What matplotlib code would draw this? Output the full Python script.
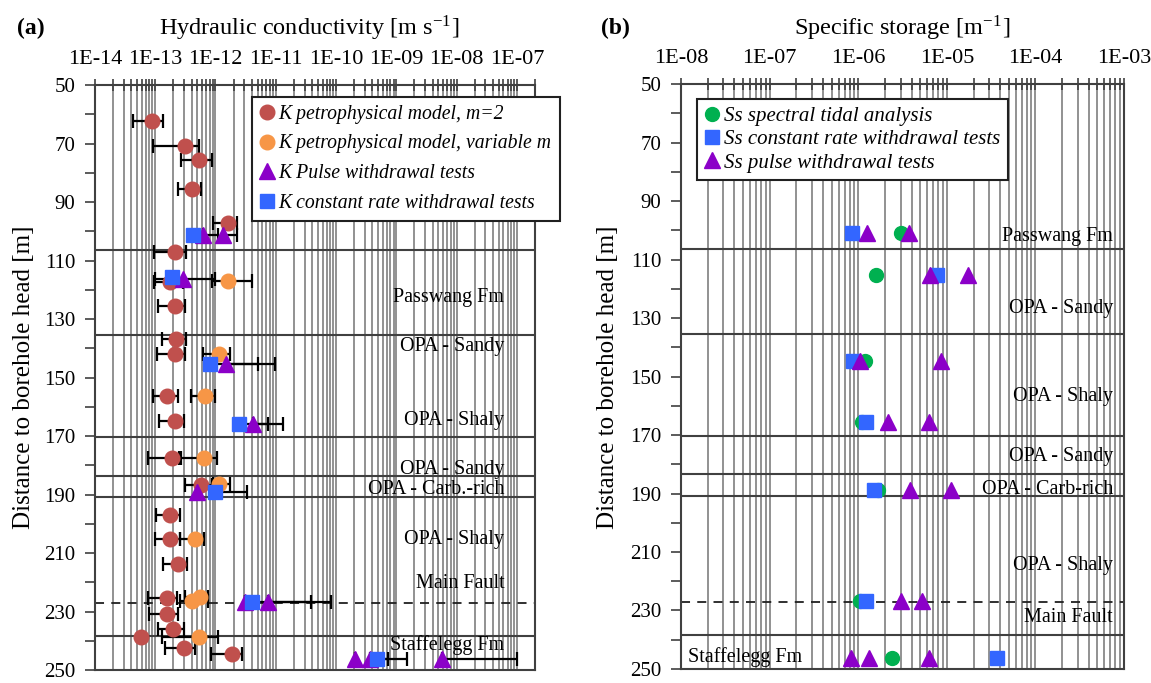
import numpy as np
import matplotlib.pyplot as plt
from matplotlib.ticker import FixedLocator, LogLocator, NullFormatter, FuncFormatter

plt.rcParams['font.family'] = ['Liberation Serif', 'DejaVu Serif']
plt.rcParams['mathtext.fontset'] = 'stix'

# ---- (a) hydraulic conductivity, depth in m, K in m/s
# K petrophysical model, m=2
m2_depth = [62.4, 70.9, 75.7, 85.6, 97.2, 107.1, 117.2, 125.7, 136.8, 141.9, 156.2, 164.9,
            177.4, 186.7, 196.9, 205.2, 213.8, 225.5, 230.8, 235.9, 238.7, 242.4, 244.6]
m2_k = [8.7e-14, 3.1e-13, 5.4e-13, 4.1e-13, 1.63e-12, 2.1e-13, 1.75e-13, 2.1e-13, 2.2e-13, 2.1e-13,
        1.58e-13, 2.1e-13, 1.87e-13, 5.7e-13, 1.75e-13, 1.75e-13, 2.35e-13, 1.58e-13, 1.55e-13,
        2.0e-13, 5.9e-14, 3.0e-13, 1.85e-12]
m2_lo = [4.3e-14, 9.3e-14, 2.67e-13, 2.35e-13, 9.2e-13, 9.6e-14, 9.5e-14, 1.12e-13, 1.28e-13, 1.05e-13,
         9.1e-14, 1.16e-13, 7.5e-14, 3.1e-13, 1.02e-13, 9.9e-14, 1.36e-13, 7.7e-14, 7.9e-14,
         1.12e-13, 5.9e-14, 1.45e-13, 8.3e-13]
m2_hi = [1.36e-13, 5.3e-13, 8.6e-13, 5.7e-13, 2.24e-12, 3.3e-13, 2.9e-13, 3.1e-13, 3.2e-13, 3.1e-13,
         2.4e-13, 3.0e-13, 2.64e-13, 8.7e-13, 2.57e-13, 2.57e-13, 3.4e-13, 2.3e-13, 2.4e-13,
         3.0e-13, 5.9e-14, 4.55e-13, 2.77e-12]

# K petrophysical model, variable m
vm_depth = [117.0, 141.9, 156.2, 177.4, 186.4, 205.2, 226.3, 225.2, 238.7]
vm_k = [1.63e-12, 1.15e-12, 6.7e-13, 6.4e-13, 1.15e-12, 4.55e-13, 4.0e-13, 5.5e-13, 5.4e-13]
vm_lo = [8.6e-13, 6.1e-13, 3.9e-13, 2.47e-13, 9.1e-13, 2.57e-13, 2.57e-13, 3.1e-13, 1.28e-13]
vm_hi = [3.97e-12, 1.73e-12, 9.8e-13, 1.04e-12, 1.73e-12, 6.5e-13, 7.6e-13, 7.6e-13, 1.11e-12]

# K pulse withdrawal tests
pw_depth = [101.4, 101.4, 116.3, 145.5, 165.8, 189.0, 226.8, 226.8, 246.3, 246.3, 246.3]
pw_k = [6.3e-13, 1.34e-12, 2.9e-13, 1.52e-12, 4.2e-12, 4.9e-13, 3.1e-12, 7.3e-12, 2.1e-10, 3.6e-10, 5.75e-9]
pw_lo = [6.3e-13, 1.34e-12, 1.0e-13, 1.52e-12, 4.2e-12, 4.9e-13, 3.1e-12, 7.3e-12, 2.1e-10, 3.6e-10, 5.75e-9]
pw_hi = [1.1e-12, 2.24e-12, 9.8e-13, 9.7e-12, 1.33e-11, 4.9e-13, 3.1e-12, 8.1e-11, 2.1e-10, 7.2e-10, 1.02e-7]

# K constant rate withdrawal tests
cr_depth = [101.4, 115.5, 145.5, 165.8, 189.0, 226.8, 246.3]
cr_k = [4.3e-13, 1.87e-13, 8.1e-13, 2.44e-12, 1.0e-12, 4.0e-12, 4.8e-10]
cr_lo = [4.3e-13, 1.87e-13, 8.1e-13, 2.44e-12, 1.0e-12, 4.0e-12, 4.8e-10]
cr_hi = [4.3e-13, 1.87e-13, 5.0e-12, 7.4e-12, 3.3e-12, 3.8e-11, 1.48e-9]

# ---- (b) specific storage, 1/m
st_depth = [100.8, 115.4, 144.8, 165.4, 188.7, 226.6, 246.1]
st_ss = [3.0e-6, 1.57e-6, 1.19e-6, 1.1e-6, 1.69e-6, 1.05e-6, 2.39e-6]
crs_depth = [100.8, 115.4, 144.8, 165.4, 188.7, 226.6, 246.1]
crs_ss = [8.6e-7, 7.7e-6, 8.8e-7, 1.22e-6, 1.52e-6, 1.22e-6, 3.66e-5]
pws_depth = [100.8, 100.8, 115.4, 115.4, 144.8, 144.8, 165.4, 165.4,
             188.7, 188.7, 226.6, 226.6, 246.1, 246.1, 246.1]
pws_ss = [1.25e-6, 3.7e-6, 6.5e-6, 1.75e-5, 1.05e-6, 8.6e-6, 2.19e-6, 6.3e-6,
          3.8e-6, 1.1e-5, 3.0e-6, 5.25e-6, 8.3e-7, 1.33e-6, 6.3e-6]

# formation boundaries and labels
unit_bounds = [106.3, 135.4, 170.4, 183.5, 190.8, 238.5]
fault_depth = 227.0
a_labels = ['Passwang Fm', 'OPA - Sandy', 'OPA - Shaly', 'OPA - Sandy', 'OPA - Carb.-rich',
            'OPA - Shaly', 'Main Fault', 'Staffelegg Fm']
a_label_depth = [122.5, 139.5, 164.6, 181.5, 188.2, 205.3, 220.5, 241.5]
b_labels = ['Passwang Fm', 'OPA - Sandy', 'OPA - Shaly', 'OPA - Sandy', 'OPA - Carb-rich',
            'OPA - Shaly', 'Main Fault']
b_label_depth = [102.0, 126.9, 156.8, 177.3, 188.7, 214.5, 232.3]
depth_ticks = [50, 70, 90, 110, 130, 150, 170, 190, 210, 230, 250]

c_red = '#C0504D'
c_orange = '#F79646'
c_purple = '#8B00C8'
c_blue = '#3366FF'
c_green = '#00B050'
c_line = '#404040'


def style_axis(ax, xmin, xmax, decades):
    ax.set_xscale('log')
    ax.set_xlim(xmin, xmax)
    ax.set_ylim(250, 50)
    ax.xaxis.tick_top()
    ax.xaxis.set_major_locator(FixedLocator(decades))
    ax.xaxis.set_major_formatter(FuncFormatter(lambda v, p: '1E-%02d' % round(-np.log10(v))))
    ax.xaxis.set_minor_locator(LogLocator(base=10, subs=np.arange(2, 10), numticks=30))
    ax.xaxis.set_minor_formatter(NullFormatter())
    ax.tick_params(axis='x', which='both', direction='inout', length=9, width=1.2,
                   color=c_line, labelsize=16, pad=7)
    ax.yaxis.set_major_locator(FixedLocator(depth_ticks))
    ax.yaxis.set_minor_locator(FixedLocator([t + 10 for t in depth_ticks[:-1]]))
    ax.tick_params(axis='y', which='both', direction='out', length=7, width=1.2,
                   color=c_line, labelsize=15, pad=7)
    ax.grid(True, which='both', axis='x', color='#7f7f7f', lw=1.2)
    ax.set_axisbelow(True)
    for s in ax.spines.values():
        s.set_color(c_line)
        s.set_linewidth(1.5)
    for d in unit_bounds:
        ax.axhline(d, color=c_line, lw=1.5, zorder=1.5)
    ax.axhline(fault_depth, color='#202020', lw=1.3, ls=(0, (5, 4)), zorder=1.5)


fig = plt.figure(figsize=(11.51, 6.83), dpi=100)
axa = fig.add_axes([0.0825, 0.0190, 0.3823, 0.8565])
axb = fig.add_axes([0.5917, 0.0205, 0.3849, 0.8565])

style_axis(axa, 1e-14, 2e-7, [10.0 ** -e for e in range(14, 6, -1)])
style_axis(axb, 1e-8, 1e-3, [10.0 ** -e for e in range(8, 2, -1)])

# ---- panel (a)
eb = dict(fmt='none', ecolor='black', elinewidth=1.6, capsize=5, capthick=1.6, zorder=3)
for d, k, lo, hi in [(m2_depth, m2_k, m2_lo, m2_hi), (vm_depth, vm_k, vm_lo, vm_hi),
                     (pw_depth, pw_k, pw_lo, pw_hi), (cr_depth, cr_k, cr_lo, cr_hi)]:
    k = np.array(k)
    axa.errorbar(k, d, xerr=[k - np.array(lo), np.array(hi) - k], **eb)

h1, = axa.plot(m2_k, m2_depth, 'o', color=c_red, ms=10.5, ls='none', zorder=4,
               label='K petrophysical model, m=2')
h2, = axa.plot(vm_k, vm_depth, 'o', color=c_orange, ms=10.5, ls='none', zorder=4,
               label='K petrophysical model, variable m')
h3, = axa.plot(pw_k, pw_depth, '^', color=c_purple, ms=11, ls='none', zorder=5,
               label='K Pulse withdrawal tests')
h4, = axa.plot(cr_k, cr_depth, 's', color=c_blue, ms=10, ls='none', zorder=6,
               label='K constant rate withdrawal tests')

lega = axa.legend(handles=[h1, h2, h3, h4], loc='upper left', bbox_to_anchor=(0.357, 0.980),
                  prop={'family': 'Liberation Serif', 'style': 'italic', 'size': 14.2},
                  frameon=True, fancybox=False, framealpha=1, edgecolor='#202020',
                  handlelength=0.7, handletextpad=0.25, labelspacing=0.55,
                  borderpad=0.4, borderaxespad=0)
lega.get_frame().set_linewidth(1.5)
lega.set_zorder(10)

for t, d in zip(a_labels, a_label_depth):
    axa.text(0.93, d, t, transform=axa.get_yaxis_transform(), ha='right', va='center',
             fontsize=14.5, zorder=2)

# ---- panel (b)
g1, = axb.plot(st_ss, st_depth, 'o', color=c_green, ms=10, ls='none', zorder=4,
               label='Ss spectral tidal analysis')
g2, = axb.plot(crs_ss, crs_depth, 's', color=c_blue, ms=10, ls='none', zorder=5,
               label='Ss constant rate withdrawal tests')
g3, = axb.plot(pws_ss, pws_depth, '^', color=c_purple, ms=11, ls='none', zorder=6,
               label='Ss pulse withdrawal tests')

legb = axb.legend(handles=[g1, g2, g3], loc='upper left', bbox_to_anchor=(0.036, 0.974),
                  prop={'family': 'Liberation Serif', 'style': 'italic', 'size': 15},
                  frameon=True, fancybox=False, framealpha=1, edgecolor='#202020',
                  handlelength=0.7, handletextpad=0.25, labelspacing=0.18,
                  borderpad=0.35, borderaxespad=0)
legb.get_frame().set_linewidth(1.5)
legb.set_zorder(10)

for t, d in zip(b_labels, b_label_depth):
    axb.text(0.975, d, t, transform=axb.get_yaxis_transform(), ha='right', va='center',
             fontsize=14.5, zorder=2)
axb.text(0.016, 245.9, 'Staffelegg Fm', transform=axb.get_yaxis_transform(), ha='left',
         va='center', fontsize=14.5, zorder=2)

# ---- titles and labels
fig.text(0.015, 0.958, '(a)', fontsize=17, fontweight='bold', va='center')
fig.text(0.522, 0.958, '(b)', fontsize=17, fontweight='bold', va='center')
fig.text(0.269, 0.958, r'Hydraulic conductivity [m s$^{\mathregular{-1}}$]', fontsize=17.5,
         ha='center', va='center')
fig.text(0.784, 0.958, r'Specific storage [m$^{\mathregular{-1}}$]', fontsize=17.5,
         ha='center', va='center')
fig.text(0.021, 0.448, 'Distance to borehole head [m]', fontsize=18, rotation=90,
         ha='center', va='center')
fig.text(0.528, 0.448, 'Distance to borehole head [m]', fontsize=18, rotation=90,
         ha='center', va='center')

fig.savefig('out.png', dpi=100)
